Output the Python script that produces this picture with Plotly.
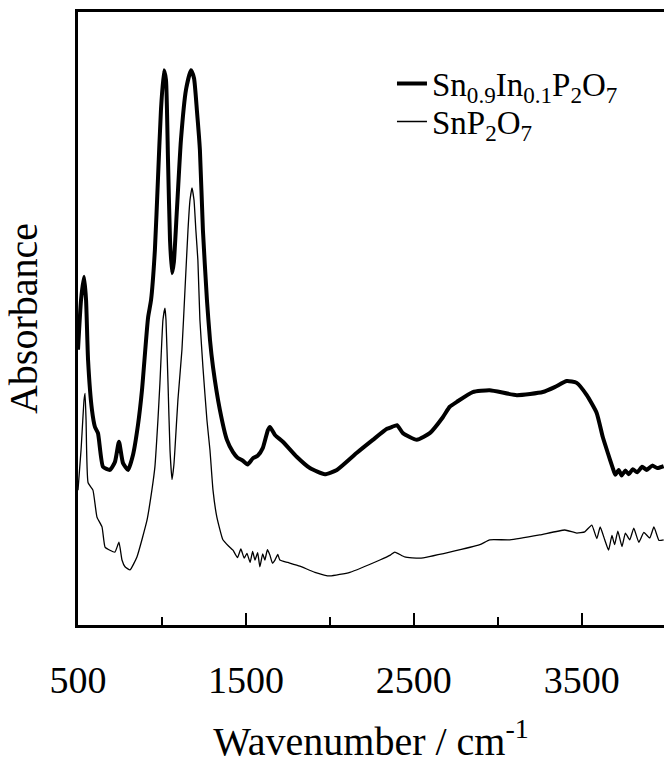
import plotly.graph_objects as go

# Sn0.9In0.1P2O7 (thick)
x_doped = [500, 518, 536, 548, 560, 583, 601, 619, 649, 690, 720, 744, 768, 798, 827, 857, 881, 917, 935, 958,
           976, 994, 1012, 1024, 1036, 1048, 1060, 1071, 1089, 1113, 1143, 1173, 1191, 1208, 1226, 1244, 1268, 1286,
           1304, 1345, 1387, 1423, 1450, 1482, 1510, 1542, 1570, 1601, 1631, 1643, 1673, 1720, 1804, 1881, 1970,
           2042, 2161, 2256, 2340, 2369, 2400, 2435, 2518, 2595, 2673, 2714, 2756, 2851, 2952, 3113, 3268, 3339,
           3411, 3470, 3530, 3589, 3625, 3655, 3685, 3700, 3720, 3738, 3760, 3780, 3804, 3830, 3860, 3887, 3920,
           3950, 3988]
y_doped = [44.9, 53.0, 56.8, 53.0, 43.2, 35.1, 32.3, 31.3, 25.8, 25.3, 26.6, 29.9, 26.4, 25.3, 27.7, 32.6, 38.3,
           50.1, 53.0, 61.2, 72.6, 84.0, 90.5, 88.9, 75.9, 62.8, 57.4, 59.2, 67.7, 79.1, 87.3, 90.5, 89.2, 84.0,
           77.5, 64.4, 53.0, 46.5, 42.1, 35.1, 30.2, 28.2, 27.3, 26.8, 26.2, 27.2, 27.6, 28.9, 31.8, 32.3, 31.0,
           29.9, 27.4, 25.6, 24.6, 25.3, 28.1, 30.2, 32.0, 32.3, 32.6, 31.3, 30.2, 31.3, 33.9, 35.6, 36.4, 38.0,
           38.3, 37.5, 38.0, 38.8, 39.8, 39.5, 37.5, 34.6, 30.7, 28.1, 25.6, 24.5, 25.3, 24.4, 25.2, 24.6, 25.4,
           24.9, 25.8, 25.3, 26.0, 25.6, 25.9]

# SnP2O7 (thin)
x_pure = [500, 518, 536, 542, 548, 560, 589, 613, 643, 661, 690, 720, 744, 762, 780, 810, 851, 911, 940, 958,
          976, 988, 1006, 1018, 1024, 1036, 1048, 1060, 1071, 1077, 1095, 1119, 1137, 1155, 1167, 1179, 1191, 1202,
          1214, 1226, 1244, 1268, 1286, 1304, 1327, 1363, 1400, 1423, 1450, 1470, 1490, 1506, 1525, 1540, 1554,
          1570, 1583, 1600, 1613, 1628, 1643, 1658, 1673, 1690, 1702, 1750, 1821, 1911, 2000, 2119, 2298, 2360,
          2387, 2446, 2536, 2714, 2893, 2952, 3071, 3250, 3399, 3470, 3518, 3560, 3590, 3610, 3637, 3660, 3680,
          3696, 3715, 3740, 3760, 3786, 3810, 3840, 3870, 3905, 3930, 3960, 3988]
y_pure = [22.0, 28.5, 36.7, 37.8, 33.4, 23.2, 22.0, 17.6, 16.0, 12.7, 12.2, 11.9, 13.5, 10.6, 9.5, 9.0, 11.1,
          17.1, 22.0, 25.8, 33.4, 39.5, 49.8, 51.7, 49.8, 39.5, 28.5, 23.7, 26.1, 28.5, 36.7, 44.9, 54.6, 64.4,
          69.3, 71.3, 69.3, 64.4, 59.5, 49.8, 42.1, 33.4, 28.5, 22.0, 17.6, 13.9, 12.8, 12.2, 11.0, 12.4, 10.9,
          11.7, 10.2, 12.0, 10.6, 11.8, 9.5, 11.6, 10.6, 12.3, 11.4, 10.1, 10.6, 11.5, 10.6, 10.2, 9.6, 8.6, 8.0,
          8.6, 10.6, 11.4, 11.9, 11.1, 10.9, 11.9, 13.1, 13.9, 13.9, 14.7, 15.5, 15.0, 15.2, 16.3, 14.1, 16.0,
          13.9, 12.2, 14.6, 13.1, 15.3, 12.8, 15.0, 13.9, 15.8, 13.5, 15.1, 14.2, 16.0, 13.8, 13.9]

FONT = "Liberation Serif, Times New Roman, serif"

fig = go.Figure()
fig.add_trace(go.Scatter(x=x_doped, y=y_doped, mode="lines",
                         name="Sn<sub>0.9</sub>In<sub>0.1</sub>P<sub>2</sub>O<sub>7</sub>",
                         line=dict(color="black", width=4, shape="spline", smoothing=0.5),
                         legend="legend"))
fig.add_trace(go.Scatter(x=x_pure, y=y_pure, mode="lines",
                         name="SnP<sub>2</sub>O<sub>7</sub>",
                         line=dict(color="black", width=1.3, shape="spline", smoothing=0.4),
                         legend="legend2"))

leg_common = dict(xanchor="left", yanchor="top",
                  font=dict(family=FONT, size=33, color="black"),
                  bgcolor="rgba(0,0,0,0)", itemwidth=30)

fig.update_layout(
    width=664, height=771,
    margin=dict(l=78, r=0, t=12, b=146),
    paper_bgcolor="white", plot_bgcolor="white",
    font=dict(family=FONT, color="black"),
    showlegend=True,
    legend=dict(x=0.5358, y=0.929, **leg_common),
    legend2=dict(x=0.5358, y=0.867, **leg_common),
    xaxis=dict(range=[500, 3990], showgrid=False, zeroline=False,
               showline=True, linecolor="black", linewidth=3, mirror=True,
               tickvals=[500, 1500, 2500, 3500], ticktext=["500", "1500", "2500", "3500"],
               ticks="inside", ticklen=12, tickwidth=2, tickcolor="black",
               minor=dict(tickvals=[1000, 2000, 3000], ticks="inside", ticklen=8,
                          tickwidth=2, tickcolor="black"),
               tickfont=dict(family=FONT, size=38, color="black"),
               ticklabelstandoff=19,
               title=dict(text="Wavenumber / cm<sup>-1</sup>",
                          font=dict(family=FONT, size=40, color="black"), standoff=28)),
    yaxis=dict(range=[0, 100], showgrid=False, zeroline=False,
               showline=True, linecolor="black", linewidth=3, mirror=False,
               showticklabels=False, ticks="",
               title=dict(text="Absorbance",
                          font=dict(family=FONT, size=40, color="black"), standoff=26)),
)

fig.write_html("out.html")
